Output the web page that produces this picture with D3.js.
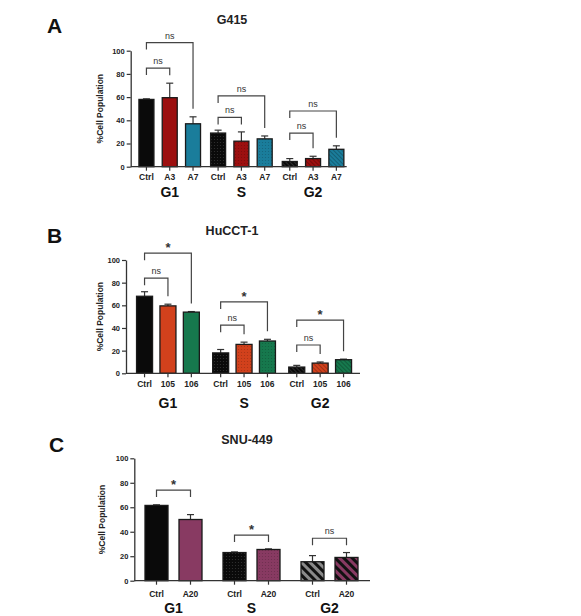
<!DOCTYPE html>
<html>
<head>
<meta charset="utf-8">
<script src="https://cdn.jsdelivr.net/npm/d3@7"></script>
<style>
  body { margin: 0; background: #fff; }
  text { font-family: Arial, "Liberation Sans", sans-serif; }
</style>
</head>
<body>
<svg id="chart" width="581" height="616"></svg>
<script>
// data
const groups = ["G1", "S", "G2"];
const yTicks = [0, 20, 40, 60, 80, 100];

const condA = ["Ctrl", "A3", "A7"];
const meanA = [[58, 59.5, 37], [29, 22, 24], [4.5, 7, 15]];
const errA = [[58.5, 72, 43], [31.5, 30, 26.5], [7, 9, 18]];
// [group, compared index, bracket level, label]
const sigA = [["G1", 1, 85, "ns"], ["G1", 2, 107, "ns"], ["S", 1, 42.5, "ns"], ["S", 2, 61, "ns"], ["G2", 1, 29, "ns"], ["G2", 2, 48, "ns"]];

const condB = ["Ctrl", "105", "106"];
const meanB = [[68, 59.5, 54], [18, 25.5, 28.5], [5.5, 9, 12]];
const errB = [[72, 61, 54.5], [21, 27.5, 30], [7, 10, 12.5]];
const sigB = [["G1", 1, 84, "ns"], ["G1", 2, 106, "*"], ["S", 1, 42.5, "ns"], ["S", 2, 63, "*"], ["G2", 1, 25, "ns"], ["G2", 2, 47, "*"]];

const condC = ["Ctrl", "A20"];
const meanC = [[61.5, 50], [23, 25.5], [15.5, 19]];
const errC = [[62, 54], [23.5, 26], [20.5, 23]];
const sigC = [["G1", 1, 74, "*"], ["S", 1, 37.3, "*"], ["G2", 1, 34.7, "ns"]];

const colA = ["#0a0a0a", "#9c0f0f", "#1a7d9b"];
const colB = ["#0a0a0a", "#d2411c", "#16784d"];
const colC = ["#0a0a0a", "#883a62"];

const panels = [
  {letter: "A", title: "G415", conds: condA, means: meanA, errs: errA, sig: sigA, colors: colA,
   letterPos: [47, 33], titleX: 232, titleY: 24, axisX: 130.7, y0: 166.7, y100: 50.7, xEnd: 346.7,
   band: [133.9, 348.9], step: 23.3, barW: 15, barLabelY: 180, groupLabelY: 197, yTitleX: 103,
   longLegs: true, g2: "hatch"},
  {letter: "B", title: "HuCCT-1", conds: condB, means: meanB, errs: errB, sig: sigB, colors: colB,
   letterPos: [47, 243], titleX: 232, titleY: 235, axisX: 126, y0: 373.3, y100: 260, xEnd: 360,
   band: [129.9, 358.2], step: 23.4, barW: 16, barLabelY: 387, groupLabelY: 408, yTitleX: 103,
   longLegs: true, g2: "hatch"},
  {letter: "C", title: "SNU-449", conds: condC, means: meanC, errs: errC, sig: sigC, colors: colC,
   letterPos: [49, 452], titleX: 247, titleY: 444, axisX: 134.3, y0: 580.7, y100: 458.3, xEnd: 370,
   band: [134.5, 368.5], step: 34, barW: 23, barLabelY: 597, groupLabelY: 613, yTitleX: 105,
   longLegs: false, g2: "stripe"}
];

const svg = d3.select("#chart");
const defs = svg.append("defs");
let patId = 0;

function dotPattern(color) {
  const id = "p" + (patId++);
  const p = defs.append("pattern").attr("id", id).attr("patternUnits", "userSpaceOnUse")
    .attr("width", 3).attr("height", 3);
  p.append("rect").attr("width", 3).attr("height", 3).attr("fill", color);
  p.append("circle").attr("cx", 1.5).attr("cy", 1.5).attr("r", 0.6)
    .attr("fill", color === "#0a0a0a" ? "#333" : "rgba(0,0,0,0.2)");
  return "url(#" + id + ")";
}

function hatchPattern(color) {
  const id = "p" + (patId++);
  const p = defs.append("pattern").attr("id", id).attr("patternUnits", "userSpaceOnUse")
    .attr("width", 3).attr("height", 3).attr("patternTransform", "rotate(-45)");
  p.append("rect").attr("width", 3).attr("height", 3).attr("fill", color);
  p.append("rect").attr("width", 0.8).attr("height", 3)
    .attr("fill", color === "#0a0a0a" ? "#333" : "rgba(0,0,0,0.3)");
  return "url(#" + id + ")";
}

function stripePattern(color) {
  const id = "p" + (patId++);
  const p = defs.append("pattern").attr("id", id).attr("patternUnits", "userSpaceOnUse")
    .attr("width", 6).attr("height", 6).attr("patternTransform", "rotate(-45)");
  p.append("rect").attr("width", 6).attr("height", 6).attr("fill", "#111");
  p.append("rect").attr("width", 3).attr("height", 6)
    .attr("fill", color === "#0a0a0a" ? "#8a8a8a" : color);
  return "url(#" + id + ")";
}

panels.forEach(cfg => {
  const g = svg.append("g");
  const y = d3.scaleLinear().domain([0, 100]).range([cfg.y0, cfg.y100]);
  const xg = d3.scaleBand().domain(groups).range(cfg.band);
  const n = cfg.conds.length;
  const pad = 1 - cfg.barW / cfg.step;
  const xi = d3.scaleBand().domain(cfg.conds)
    .range([-n * cfg.step / 2, n * cfg.step / 2])
    .paddingInner(pad).paddingOuter(pad / 2);
  const center = gr => xg(gr) + xg.bandwidth() / 2;
  const barX = (gr, c) => center(gr) + xi(c);
  const barMid = (gr, c) => barX(gr, c) + xi.bandwidth() / 2;

  // fills per group
  const fills = groups.map((gr, gi) => cfg.colors.map(col => {
    if (gi === 0) return col;
    if (gi === 1) return dotPattern(col);
    return cfg.g2 === "hatch" ? hatchPattern(col) : stripePattern(col);
  }));

  // panel letter & title
  g.append("text").attr("x", cfg.letterPos[0]).attr("y", cfg.letterPos[1])
    .attr("font-size", 21).attr("font-weight", "bold").attr("fill", "#111").text(cfg.letter);
  g.append("text").attr("x", cfg.titleX).attr("y", cfg.titleY).attr("text-anchor", "middle")
    .attr("font-size", 12.5).attr("font-weight", "bold").attr("fill", "#222").text(cfg.title);

  // bars
  const rows = [];
  groups.forEach((gr, gi) => cfg.conds.forEach((c, ci) => {
    rows.push({gr, gi, c, ci, m: cfg.means[gi][ci], e: cfg.errs[gi][ci]});
  }));

  g.selectAll("line.err").data(rows).enter().append("line")
    .attr("x1", d => barMid(d.gr, d.c)).attr("x2", d => barMid(d.gr, d.c))
    .attr("y1", d => y(d.m)).attr("y2", d => y(d.e))
    .attr("stroke", "#333").attr("stroke-width", 1.2);
  g.selectAll("line.cap").data(rows).enter().append("line")
    .attr("x1", d => barMid(d.gr, d.c) - 3.5).attr("x2", d => barMid(d.gr, d.c) + 3.5)
    .attr("y1", d => y(d.e)).attr("y2", d => y(d.e))
    .attr("stroke", "#333").attr("stroke-width", 1.2);

  g.selectAll("rect.bar").data(rows).enter().append("rect")
    .attr("x", d => barX(d.gr, d.c)).attr("width", xi.bandwidth())
    .attr("y", d => y(d.m)).attr("height", d => y(0) - y(d.m))
    .attr("fill", d => fills[d.gi][d.ci])
    .attr("stroke", "#1a1a1a").attr("stroke-width", 1.3);

  // y axis
  const ya = g.append("g").attr("transform", `translate(${cfg.axisX},0)`)
    .call(d3.axisLeft(y).tickValues(yTicks).tickSize(4).tickSizeOuter(0).tickPadding(2));
  ya.select(".domain").attr("stroke", "#333").attr("stroke-width", 1.3);
  ya.selectAll(".tick line").attr("stroke", "#333").attr("stroke-width", 1.2);
  ya.selectAll(".tick text").attr("font-size", 7.5).attr("font-weight", "bold").attr("fill", "#222")
    .attr("font-family", "Arial, 'Liberation Sans', sans-serif");

  g.append("text")
    .attr("transform", `translate(${cfg.yTitleX},${(cfg.y0 + cfg.y100) / 2}) rotate(-90)`)
    .attr("text-anchor", "middle").attr("font-size", 8.5).attr("font-weight", "bold")
    .attr("fill", "#222").text("%Cell Population");

  // x axis
  g.append("line").attr("x1", cfg.axisX).attr("x2", cfg.xEnd)
    .attr("y1", cfg.y0).attr("y2", cfg.y0).attr("stroke", "#333").attr("stroke-width", 1.3);
  g.selectAll("line.xt").data(rows).enter().append("line")
    .attr("x1", d => barMid(d.gr, d.c)).attr("x2", d => barMid(d.gr, d.c))
    .attr("y1", cfg.y0).attr("y2", cfg.y0 + 4).attr("stroke", "#333").attr("stroke-width", 1.2);
  g.selectAll("text.bl").data(rows).enter().append("text")
    .attr("x", d => barMid(d.gr, d.c)).attr("y", cfg.barLabelY).attr("text-anchor", "middle")
    .attr("font-size", 8.5).attr("font-weight", "bold").attr("fill", "#222").text(d => d.c);
  g.selectAll("text.gl").data(groups).enter().append("text")
    .attr("x", d => center(d)).attr("y", cfg.groupLabelY).attr("text-anchor", "middle")
    .attr("font-size", 14).attr("font-weight", "bold").attr("fill", "#111").text(d => d);

  // significance brackets
  cfg.sig.forEach(([gr, idx, level, label]) => {
    const gi = groups.indexOf(gr);
    const xl = barMid(gr, cfg.conds[0]);
    const xr = barMid(gr, cfg.conds[idx]);
    const yb = y(level);
    const short = yb + 7;
    const yr = cfg.longLegs ? Math.max(short, y(cfg.errs[gi][idx]) - 8) : short;
    g.append("path")
      .attr("d", `M${xl},${short}V${yb}H${xr}V${yr}`)
      .attr("fill", "none").attr("stroke", "#444").attr("stroke-width", 1.2);
    const star = label === "*";
    g.append("text").attr("x", (xl + xr) / 2).attr("y", star ? yb - 1 : yb - 4)
      .attr("text-anchor", "middle")
      .attr("font-size", star ? 13 : 9).attr("font-weight", star ? "bold" : "normal")
      .attr("fill", "#333").text(label);
  });
});
</script>
</body>
</html>
